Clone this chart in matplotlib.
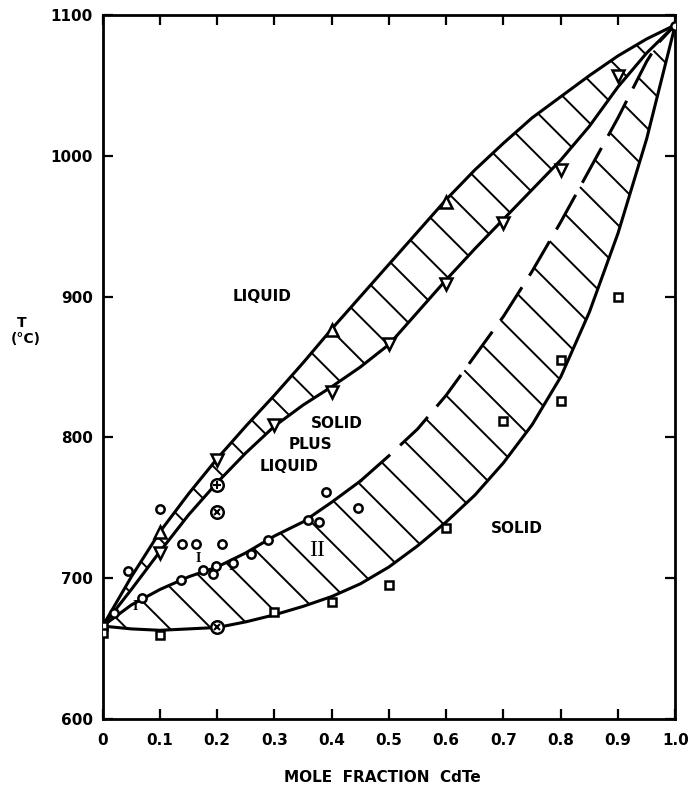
import numpy as np
import matplotlib.pyplot as plt

# boundary curves (x = mole fraction CdTe, T in deg C)
x_grid = [0, 0.05, 0.1, 0.15, 0.2, 0.25, 0.3, 0.35, 0.4, 0.45, 0.5,
          0.55, 0.6, 0.65, 0.7, 0.75, 0.8, 0.85, 0.9, 0.95, 1.0]
liq_outer = [666, 701, 733, 760, 785, 808, 830, 853, 877, 900, 923,
             946, 969, 990, 1009, 1027, 1042, 1057, 1071, 1083, 1093]
liq_inner = [666, 692, 719, 745, 768, 789, 808, 823, 836, 850, 866,
             889, 912, 934, 955, 976, 997, 1021, 1049, 1073, 1093]
sol_lower = [666, 664, 663, 664, 665, 669, 674, 680, 687, 696, 708,
             723, 740, 759, 782, 809, 843, 889, 945, 1012, 1093]

sol_x = [0, 0.05, 0.1, 0.15, 0.2, 0.25, 0.3, 0.35, 0.4, 0.45]
sol_T = [666, 681, 692, 701, 708, 718, 730, 740, 754, 769]
dash_x = [0.45, 0.5, 0.55, 0.6, 0.65, 0.7, 0.75, 0.8, 0.85, 0.9, 0.95, 0.97, 1.0]
dash_T = [769, 787, 806, 830, 858, 886, 918, 953, 990, 1027, 1067, 1080, 1093]

# measured points
circ_x = [0.02, 0.045, 0.068, 0.1, 0.136, 0.138, 0.163, 0.175, 0.193, 0.198,
          0.208, 0.228, 0.259, 0.288, 0.359, 0.377, 0.39, 0.446, 1.0]
circ_T = [675, 705, 686, 749, 699, 724, 724, 706, 703, 709,
          724, 711, 717, 727, 741, 740, 761, 750, 1092]
sq_x = [0, 0, 0.1, 0.3, 0.4, 0.5, 0.6, 0.7, 0.8, 0.8, 0.9]
sq_T = [666, 661, 660, 676, 683, 695, 736, 812, 826, 855, 900]
up_x = [0.1, 0.4, 0.6]
up_T = [733, 876, 967]
dn_x = [0.1, 0.2, 0.3, 0.4, 0.5, 0.6, 0.7, 0.8, 0.9]
dn_T = [718, 784, 809, 832, 866, 909, 952, 990, 1057]
otimes_x = [0.2, 0.2]
otimes_T = [665, 747]
oplus_x = [0.2]
oplus_T = [766]

KX = 572.5   # px per unit mole fraction
KT = 1.408   # px per degree


def hatch(ax, ux, uT, lx, lT, step=30, x_from=0.02, x_to=0.97):
    ux = np.asarray(ux, float)
    uT = np.asarray(uT, float)
    s = np.concatenate([[0], np.cumsum(np.hypot(np.diff(ux) * KX, np.diff(uT) * KT))])
    d = np.arange(0, 300, 0.5)
    for si in np.arange(step / 2, s[-1], step):
        x0 = np.interp(si, s, ux)
        t0 = np.interp(si, s, uT)
        if x0 < x_from or x0 > x_to:
            continue
        xs = x0 + d / KX
        ts = t0 - d / KT
        hit = np.where(ts - np.interp(xs, lx, lT) <= 0)[0]
        if len(hit) == 0:
            continue
        k = hit[0]
        ax.plot([x0, xs[k]], [t0, ts[k]], color='k', lw=1.4, solid_capstyle='butt')


fig = plt.figure(figsize=(6.94, 7.87), dpi=100)
ax = fig.add_axes([0.148, 0.0864, 0.825, 0.8945])

ax.plot(x_grid, liq_outer, color='k', lw=2.2)
ax.plot(x_grid, liq_inner, color='k', lw=2.2)
ax.plot(x_grid, sol_lower, color='k', lw=2.2)
ax.plot(sol_x, sol_T, color='k', lw=2.2)
ln, = ax.plot(dash_x, dash_T, color='k', lw=2.2)
ln.set_dashes((13, 4.5))

hatch(ax, x_grid, liq_outer, x_grid, liq_inner, step=30, x_from=0.03)
hatch(ax, sol_x + dash_x[1:], sol_T + dash_T[1:], x_grid, sol_lower, step=31, x_from=0.015)

mk = dict(color='k', ls='none', mfc='white', mew=1.8, zorder=5)
ax.plot(circ_x, circ_T, 'o', ms=6, **mk)
ax.plot(sq_x, sq_T, 's', ms=5.5, **mk)
ax.plot(up_x, up_T, '^', ms=8, **mk)
ax.plot(dn_x, dn_T, 'v', ms=8, **mk)
ax.plot(otimes_x, otimes_T, 'o', ms=9, **mk)
ax.plot(otimes_x, otimes_T, 'x', ms=5, color='k', ls='none', mew=1.5, zorder=6)
ax.plot(oplus_x, oplus_T, 'o', ms=9, **mk)
ax.plot(oplus_x, oplus_T, '+', ms=6, color='k', ls='none', mew=1.5, zorder=6)

# series labels
serif = ['Liberation Serif', 'DejaVu Serif']
for lx, lt in [(0.056, 680), (0.167, 714), (0.225, 708)]:
    ax.text(lx, lt, 'I', family=serif, fontsize=10, fontweight='bold',
            ha='center', va='center')
ax.text(0.374, 720, 'II', family=serif, fontsize=17, ha='center', va='center')

lab = dict(fontsize=11, fontweight='bold', ha='center', va='center')
ax.text(0.278, 900, 'LIQUID', **lab)
ax.text(0.409, 810, 'SOLID', **lab)
ax.text(0.362, 795, 'PLUS', **lab)
ax.text(0.326, 779, 'LIQUID', **lab)
ax.text(0.723, 735, 'SOLID', **lab)

ax.set_xlim(0, 1.0)
ax.set_ylim(600, 1100)
ax.set_xticks(np.arange(0, 1.01, 0.1))
ax.set_xticklabels(['0'] + ['%.1f' % v for v in np.arange(0.1, 1.01, 0.1)])
ax.set_yticks(range(600, 1101, 100))
ax.tick_params(direction='in', length=7, width=1.6, top=True, right=True,
               labelsize=11)
ax.tick_params(axis='x', pad=10)
ax.tick_params(axis='y', pad=7)
for t in ax.get_xticklabels() + ax.get_yticklabels():
    t.set_fontweight('bold')
for sp in ax.spines.values():
    sp.set_linewidth(2)

fig.text(382 / 694, 1 - 777 / 787, 'MOLE  FRACTION  CdTe', fontsize=11,
         fontweight='bold', ha='center', va='center')
fig.text(22 / 694, 1 - 323 / 787, 'T', fontsize=10, fontweight='bold',
         ha='center', va='center')
fig.text(26 / 694, 1 - 339 / 787, '(°C)', fontsize=10, fontweight='bold',
         ha='center', va='center')

fig.savefig('out.png', dpi=100)
